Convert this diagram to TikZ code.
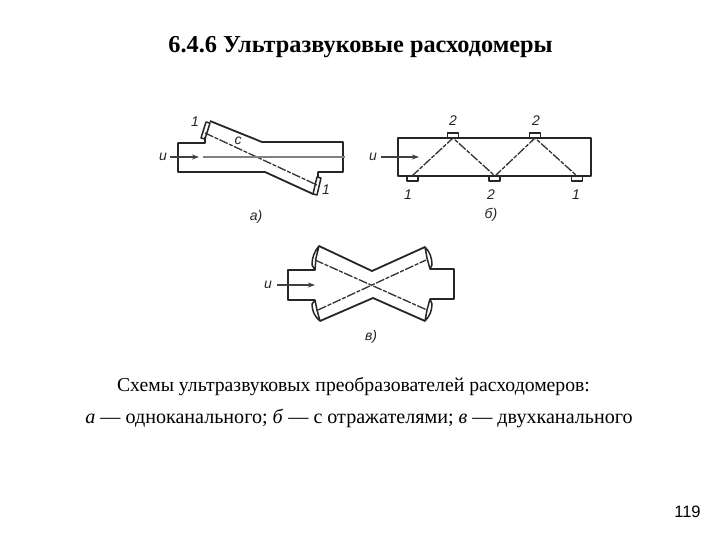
\documentclass[tikz,border=0pt]{standalone}
\usepackage{fontspec}
\usetikzlibrary{arrows.meta}
\setmainfont{Liberation Serif}
\setsansfont{Liberation Sans}
\begin{document}
\begin{tikzpicture}[x=1pt,y=-1pt,
  wall/.style={draw=black!85,line width=1.8pt,line join=round},
  sensorbox/.style={draw=black!85,line width=1.5pt,line join=round},
  beam/.style={draw=black!80,line width=1.3pt,dash pattern=on 9pt off 1.5pt on 4pt off 1.5pt},
  flowline/.style={draw=black!75,line width=1.4pt,-{Stealth[length=7pt,width=5pt]}},
  axisline/.style={draw=black!50,line width=2pt},
  lab/.style={font=\sffamily\itshape\fontsize{14}{16}\selectfont,text=black!85,inner sep=0pt},
  titletext/.style={font=\bfseries\fontsize{24.3}{28}\selectfont,inner sep=0pt},
  captext/.style={font=\fontsize{19.7}{24}\selectfont,inner sep=0pt}]
\useasboundingbox (0,0) rectangle (720,540);
\fill[white] (0,0) rectangle (720,540);
\node[titletext] (t) at (360.5,47) {6.4.6 Ультразвуковые расходомеры};
% a
\draw[wall] (205,137) -- (205,143) -- (178,143) -- (178,172) -- (265,172) -- (313,194);
\draw[wall] (210,121) -- (262,142) -- (343,142) -- (343,172) -- (318,172) -- (318,178);
\draw[sensorbox] (206,122) -- (210,123) -- (205,139) -- (201,138) -- cycle;
\draw[sensorbox] (317,177) -- (321,178) -- (317,195) -- (313,194) -- cycle;
\draw[beam] (205,133) -- (317,185);
\draw[axisline] (203,157) -- (345,157);
\coordinate (a1) at (170,157); \coordinate (a2) at (199,157);
\draw[flowline] (a1) -- (a2);
\node[lab] (au) at (163,157) {u};
\node[lab] (a1l) at (195,122) {1};
\node[lab] (ac) at (238,141) {c};
\node[lab] (a2l) at (326,190) {1};
\node[lab] (acap) at (256,217) {а)};
% b
\draw[wall] (398,138) rectangle (591,176);
\foreach \x in {453,535} \draw[sensorbox] (\x-5.5,133) rectangle (\x+5.5,138);
\foreach \x in {412.5,494.5,577} \draw[sensorbox] (\x-5.5,176) rectangle (\x+5.5,181);
\draw[beam] (412,176) -- (453,138) -- (495,176) -- (535,138) -- (577,176);
\coordinate (b1) at (381,157); \coordinate (b2) at (419,157);
\draw[flowline] (b1) -- (b2);
\node[lab] (bu) at (373,157) {u};
\node[lab] (b21) at (453,121) {2};
\node[lab] (b22) at (536,121) {2};
\node[lab] (b11) at (408,195) {1};
\node[lab] (b23) at (491,195) {2};
\node[lab] (b12) at (576,195) {1};
\node[lab] (bcap) at (491,215) {б)};
% v
\draw[wall] (315,270) -- (288,270) -- (288,300) -- (315,300);
\draw[wall] (319,246) -- (372,271) -- (425,247);
\draw[wall] (430,269) -- (454,269) -- (454,299) -- (430,299);
\draw[wall] (320,321) -- (373,298) -- (425,321);
\draw[sensorbox] (319,246) .. controls (314,252) and (312,258) .. (312,265) -- (315,270) -- (316,258) -- cycle;
\draw[sensorbox] (425,247) .. controls (430,252) and (432,258) .. (432,265) -- (430,269) -- (427,258) -- cycle;
\draw[sensorbox] (320,321) .. controls (314,316) and (312,310) .. (312,304) -- (315,300) -- (317,310) -- cycle;
\draw[sensorbox] (425,321) .. controls (430,316) and (432,310) .. (432,304) -- (430,299) -- (427,310) -- cycle;
\draw[beam] (315,260) -- (427,310);
\draw[beam] (318,310) -- (426,260);
\coordinate (v1) at (277,285); \coordinate (v2) at (315,285);
\draw[flowline] (v1) -- (v2);
\node[lab] (vu) at (268,285) {u};
\node[lab] (vcap) at (371,337) {в)};
% caption
\node[captext] (c1) at (353.5,387) {Схемы ультразвуковых преобразователей расходомеров:};
\node[captext,font=\fontsize{20.1}{24}\selectfont] (c2) at (359,418) {\textit{а} — одноканального; \textit{б} — с отражателями; \textit{в} — двухканального};
\node[font=\sffamily\fontsize{16.5}{20}\selectfont,inner sep=0pt] (pg) at (687.5,512) {119};
\end{tikzpicture}
\end{document}
